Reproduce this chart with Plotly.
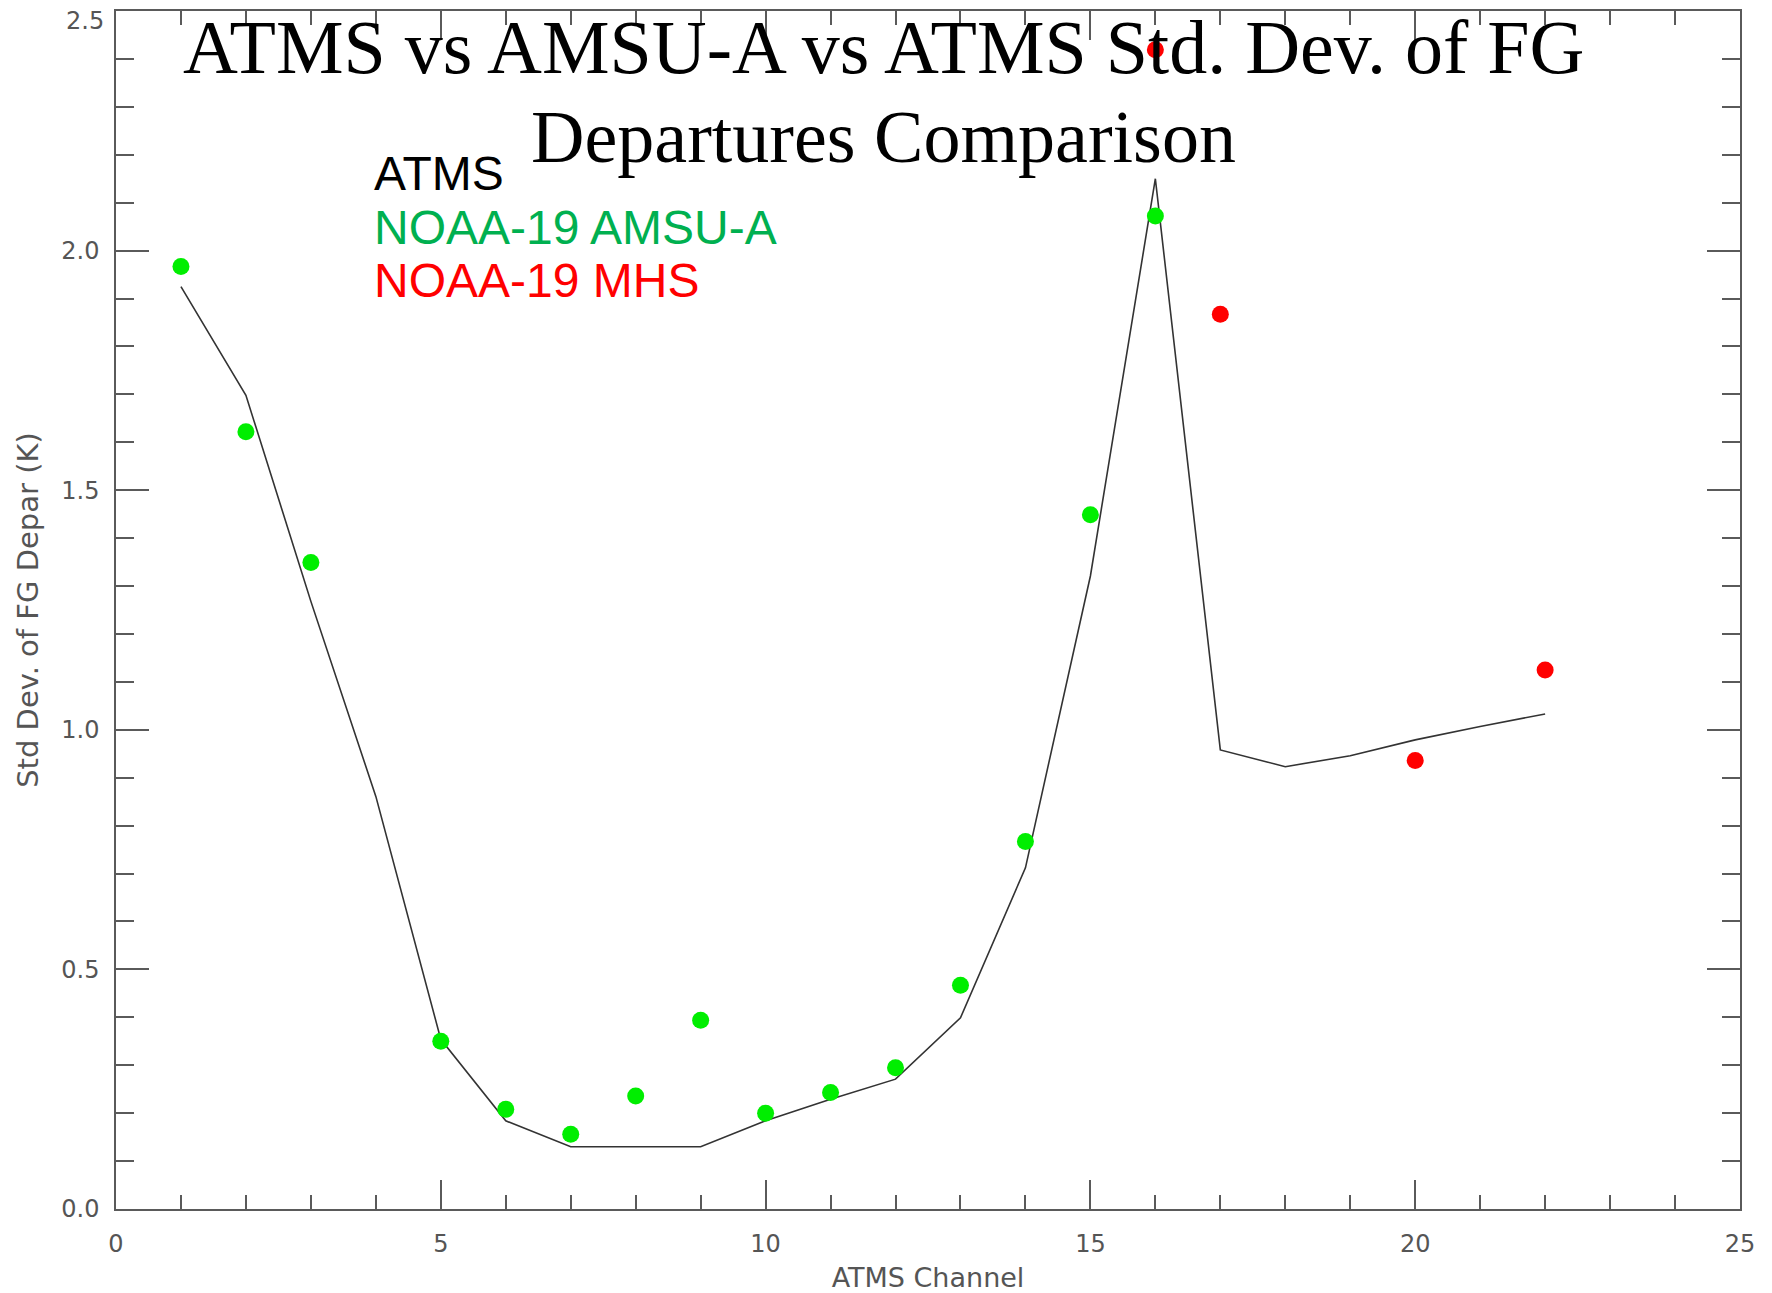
import plotly.graph_objects as go

# ---- data ----
atms_channels = list(range(1, 23))
atms_std = [1.925, 1.698, 1.268, 0.861, 0.354, 0.184, 0.130, 0.130, 0.130, 0.184,
            0.229, 0.271, 0.399, 0.712, 1.321, 2.150, 0.958, 0.923, 0.946, 0.979,
            1.007, 1.033]

amsua_channels = [1, 2, 3, 5, 6, 7, 8, 9, 10, 11, 12, 13, 14, 15, 16]
amsua_std = [1.967, 1.622, 1.349, 0.350, 0.208, 0.156, 0.236, 0.394, 0.200, 0.243,
             0.295, 0.467, 0.767, 1.449, 2.072]

mhs_channels = [16, 17, 20, 22]
mhs_std = [2.419, 1.867, 0.936, 1.125]

y_tick_vals = [0, 0.5, 1.0, 1.5, 2.0, 2.5]
y_tick_text = ["0.0", "0.5", "1.0", "1.5", "2.0", "2.5"]
x_tick_vals = [0, 5, 10, 15, 20, 25]

title_lines = ["ATMS vs AMSU-A vs ATMS Std. Dev. of FG", "Departures Comparison"]
legend_labels = ["ATMS", "NOAA-19 AMSU-A", "NOAA-19 MHS"]
x_title = "ATMS Channel"
y_title = "Std Dev. of FG Depar (K)"

# ---- figure ----
W, H = 1772, 1293
L, R, T, B = 116, 32, 11, 84
PW, PH = W - L - R, H - T - B


def py(px):
    return 1 - (px - T) / PH


def pxr(px):
    return (px - L) / PW


axis_col = "#5a5a5a"
tick_font = dict(family="DejaVu Sans", size=24, color="#555555")

fig = go.Figure()
fig.add_trace(go.Scatter(x=atms_channels, y=atms_std, mode="lines",
                         line=dict(color="#333333", width=1.6), showlegend=False))
fig.add_trace(go.Scatter(x=amsua_channels, y=amsua_std, mode="markers",
                         marker=dict(color="#00ee00", size=17), showlegend=False))
fig.add_trace(go.Scatter(x=mhs_channels, y=mhs_std, mode="markers",
                         marker=dict(color="#ff0000", size=17), showlegend=False))

fig.update_layout(
    width=W, height=H,
    margin=dict(l=L, r=R, t=T, b=B, pad=0),
    paper_bgcolor="white", plot_bgcolor="white",
    showlegend=False,
)

fig.update_xaxes(
    range=[0, 25], tickmode="array", tickvals=x_tick_vals,
    ticks="inside", ticklen=29, tickwidth=1.5,
    tickcolor=axis_col, showline=True, linecolor=axis_col, linewidth=1.5,
    mirror="ticks", showgrid=False, zeroline=False, automargin=False,
    tickfont=tick_font, ticklabelstandoff=12, ticklabeloverflow="allow",
    minor=dict(dtick=1, tick0=0, ticks="inside", ticklen=14, tickwidth=1.5, tickcolor=axis_col, showgrid=False),
    title=dict(text=x_title, font=dict(family="DejaVu Sans", size=27, color="#555555"), standoff=12),
)
# the top label (2.5) is drawn as an annotation just below its tick, as in the original
fig.update_yaxes(
    range=[0, 2.5], tickmode="array", tickvals=y_tick_vals,
    ticktext=y_tick_text[:-1] + [""], ticks="inside", ticklen=33,
    tickwidth=1.5, tickcolor=axis_col, showline=True, linecolor=axis_col, linewidth=1.5,
    mirror="ticks", showgrid=False, zeroline=False, automargin=False,
    tickfont=tick_font, ticklabelstandoff=10, ticklabeloverflow="allow",
    minor=dict(dtick=0.1, tick0=0, ticks="inside", ticklen=18, tickwidth=1.5, tickcolor=axis_col, showgrid=False),
    title=dict(text=y_title, font=dict(family="DejaVu Sans", size=29, color="#555555"), standoff=14),
)
fig.add_annotation(text=y_tick_text[-1], xref="paper", yref="paper", x=pxr(106), y=py(21),
                   xanchor="right", yanchor="middle", showarrow=False, font=tick_font)

# title (two lines, serif)
for txt, baseline, fs in zip(title_lines, [72.7, 161.7], [76, 74]):
    fig.add_annotation(text=txt, xref="paper", yref="paper", x=pxr(883),
                       y=py(baseline - 0.3375 * fs), xanchor="center", yanchor="middle",
                       showarrow=False, font=dict(family="Liberation Serif", size=fs, color="black"))

# coloured text legend
legend_colors = ["black", "#00b050", "#ff0000"]
for txt, col, baseline in zip(legend_labels, legend_colors, [190, 244, 296.7]):
    fig.add_annotation(text=txt, xref="paper", yref="paper", x=pxr(372),
                       y=py(baseline - 0.3465 * 48), xanchor="left", yanchor="middle",
                       showarrow=False, font=dict(family="Liberation Sans", size=48, color=col))

fig.write_html("out.html")
